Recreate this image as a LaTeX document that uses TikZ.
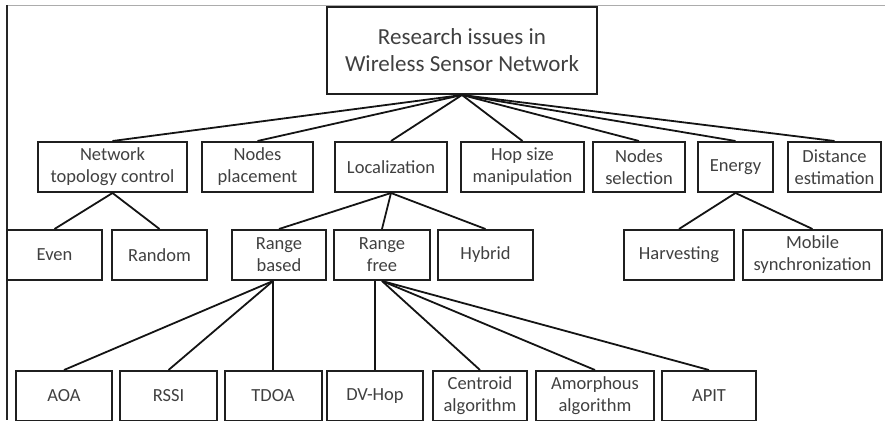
\documentclass[tikz,border=0pt]{standalone}
\usepackage{fontspec}
\setmainfont{Carlito}
\begin{document}
\begin{tikzpicture}[x=1pt,y=-1pt,
  box/.style={draw=black!88,line width=2pt,rectangle,inner sep=0pt,
    minimum height=50pt,text=black!75,align=center,
    font=\fontsize{18.5}{22}\selectfont},
  rootbox/.style={box,minimum height=87pt,
    font=\fontsize{23}{27}\selectfont},
  link/.style={draw=black!92,line width=1.8pt}]
\useasboundingbox (0,0) rectangle (885,420);
% page frame
\draw[gray!65,line width=1.6pt] (7,5.5) -- (885,5.5);
\draw[black!85,line width=1.5pt] (7,5.5) -- (7,420);

% root
\node[rootbox,minimum width=270pt] (root) at (462,50.5) {Research issues in\\Wireless Sensor Network};

% first level
\node[box,minimum width=149pt] (ntc)  at (112.5,167) {Network\\topology control};
\node[box,minimum width=111pt] (np)   at (257.5,167) {Nodes\\placement};
\node[box,minimum width=112pt] (loc)  at (391,167)   {Localization};
\node[box,minimum width=123pt] (hop)  at (522.5,167) {Hop size\\manipulation};
\node[box,minimum width=92pt]  (nsel) at (639,167)   {Nodes\\selection};
\node[box,minimum width=75pt]  (en)   at (735.5,167) {Energy};
\node[box,minimum width=93pt]  (dist) at (834.5,167) {Distance\\estimation};

% second level
\node[box,minimum width=95pt]  (even) at (54.5,255)  {Even};
\node[box,minimum width=95pt]  (rand) at (159.5,255) {Random};
\node[box,minimum width=94pt]  (rb)   at (279,255)   {Range\\based};
\node[box,minimum width=96pt]  (rf)   at (382,255)   {Range\\free};
\node[box,minimum width=95pt]  (hyb)  at (485.5,255) {Hybrid};
\node[box,minimum width=110pt] (harv) at (679,255)   {Harvesting};
\node[box,minimum width=139pt] (mob)  at (812.5,255) {Mobile\\synchronization};

% third level
\node[box,minimum width=96pt]  (aoa)  at (64,396)    {AOA};
\node[box,minimum width=97pt]  (rssi) at (168.5,396) {RSSI};
\node[box,minimum width=97pt]  (tdoa) at (273,396)   {TDOA};
\node[box,minimum width=96pt]  (dv)   at (375,396)   {DV-Hop};
\node[box,minimum width=94pt]  (cen)  at (480,396)   {Centroid\\algorithm};
\node[box,minimum width=118pt] (amo)  at (595,396)   {Amorphous\\algorithm};
\node[box,minimum width=94pt]  (apit) at (709,396)   {APIT};

% junction points on the lower edges
\coordinate (rbj) at (tdoa.north |- rb.south);
\coordinate (dvj) at (dv.north |- rf.south);

% connectors
\foreach \c in {ntc,np,loc,hop,nsel,en,dist}
  \draw[link] (root.south) -- (\c.north);
\foreach \c in {even,rand}
  \draw[link] (ntc.south) -- (\c.north);
\foreach \c in {rb,rf,hyb}
  \draw[link] (loc.south) -- (\c.north);
\foreach \c in {harv,mob}
  \draw[link] (en.south) -- (\c.north);
\foreach \c in {aoa,rssi,tdoa}
  \draw[link] (rbj) -- (\c.north);
\draw[link] (dvj) -- (dv.north);
\foreach \c in {cen,amo,apit}
  \draw[link] (rf.south) -- (\c.north);
\end{tikzpicture}
\end{document}
